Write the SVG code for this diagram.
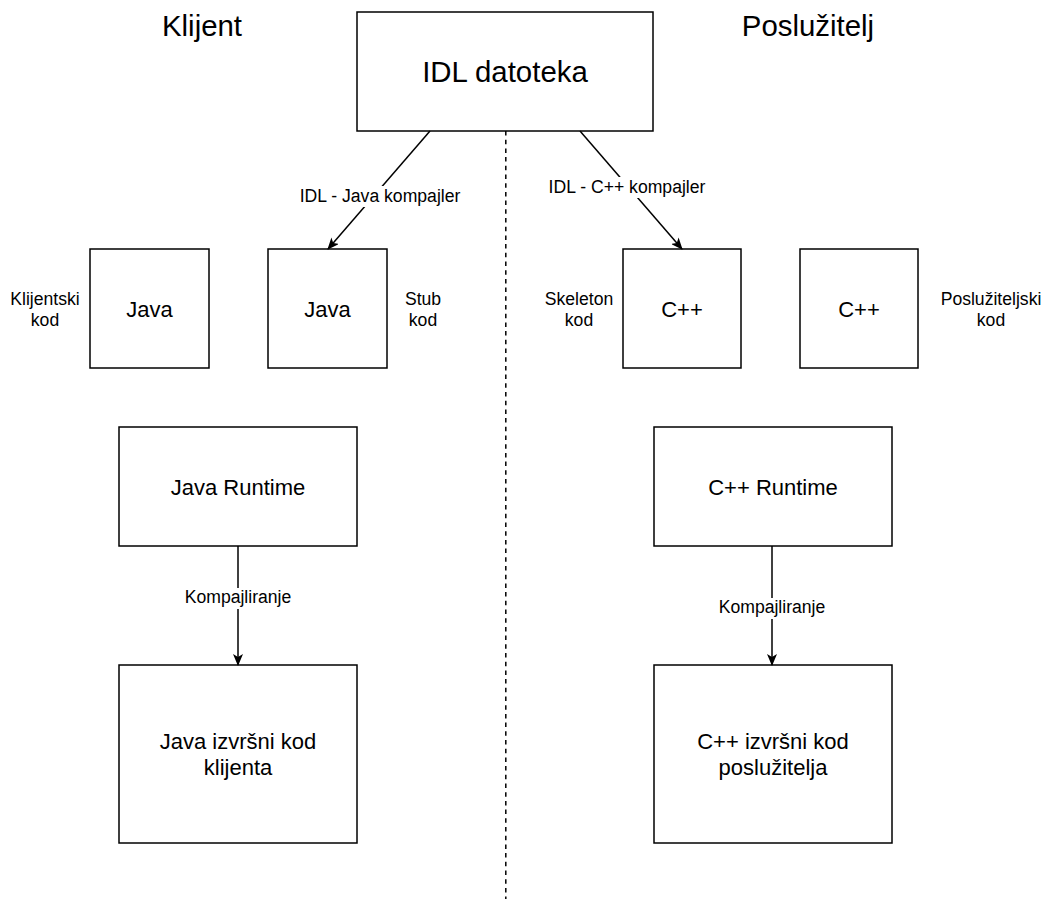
<svg xmlns="http://www.w3.org/2000/svg" width="1047" height="899" viewBox="0 0 1047 899">
<style>
.box{fill:#fff;stroke:#000;stroke-width:1.5}
.t{font-family:"Liberation Sans",Arial,sans-serif;fill:#000;text-anchor:middle}
.h{font-size:29.4px}
.m{font-size:22px}
.s{font-size:17.6px}
.edge{fill:none;stroke:#000;stroke-width:1.5}
.lblbg{fill:#fff;stroke:none}
</style>
<defs>
<marker id="arr" viewBox="0 0 12 10" refX="11" refY="5" markerWidth="12" markerHeight="10" markerUnits="userSpaceOnUse" orient="auto">
<path d="M0,0 L12,5 L0,10 L3,5 Z" fill="#000"/>
</marker>
</defs>
<rect width="1047" height="899" fill="#fff"/>
<g id="divider">
<line x1="505.8" y1="131" x2="505.8" y2="899" stroke="#000" stroke-width="1.5" stroke-dasharray="4.5,4.2"/>
</g>
<g id="title-klijent"><text class="t h" x="202" y="36">Klijent</text></g>
<g id="title-posluzitelj"><text class="t h" x="808" y="36">Poslužitelj</text></g>
<g id="idl">
<rect class="box" x="357" y="12" width="296" height="119"/>
<text class="t h" x="505" y="82">IDL datoteka</text>
</g>
<g id="java-client">
<rect class="box" x="90" y="249" width="119" height="119"/>
<text class="t m" x="149.5" y="317">Java</text>
</g>
<g id="java-stub">
<rect class="box" x="268" y="249" width="119" height="119"/>
<text class="t m" x="327.5" y="317">Java</text>
</g>
<g id="cpp-skeleton">
<rect class="box" x="623" y="249" width="118" height="119"/>
<text class="t m" x="682" y="317">C++</text>
</g>
<g id="cpp-server">
<rect class="box" x="800" y="249" width="118" height="119"/>
<text class="t m" x="859" y="317">C++</text>
</g>
<g id="lbl-klijentski"><text class="t s" x="45" y="305">Klijentski</text><text class="t s" x="45" y="326">kod</text></g>
<g id="lbl-stub"><text class="t s" x="423" y="305">Stub</text><text class="t s" x="423" y="326">kod</text></g>
<g id="lbl-skeleton"><text class="t s" x="579" y="305">Skeleton</text><text class="t s" x="579" y="326">kod</text></g>
<g id="lbl-posluziteljski"><text class="t s" x="991" y="305">Poslužiteljski</text><text class="t s" x="991" y="326">kod</text></g>
<g id="java-runtime">
<rect class="box" x="119" y="427" width="238" height="119"/>
<text class="t m" x="238" y="495">Java Runtime</text>
</g>
<g id="cpp-runtime">
<rect class="box" x="654" y="427" width="238" height="119"/>
<text class="t m" x="773" y="495">C++ Runtime</text>
</g>
<g id="java-exe">
<rect class="box" x="119" y="665" width="238" height="178"/>
<text class="t m" x="238" y="749">Java izvršni kod</text>
<text class="t m" x="238" y="775">klijenta</text>
</g>
<g id="cpp-exe">
<rect class="box" x="654" y="665" width="238" height="178"/>
<text class="t m" x="773" y="749">C++ izvršni kod</text>
<text class="t m" x="773" y="775">poslužitelja</text>
</g>
<g id="connectors">
<line class="edge" x1="430" y1="131" x2="328" y2="249" marker-end="url(#arr)"/>
<rect class="lblbg" x="299" y="186" width="162" height="21"/>
<text class="t s" x="380" y="202">IDL - Java kompajler</text>
<line class="edge" x1="580" y1="131" x2="682" y2="249" marker-end="url(#arr)"/>
<rect class="lblbg" x="548" y="177" width="158" height="21"/>
<text class="t s" x="627" y="193">IDL - C++ kompajler</text>
<line class="edge" x1="238" y1="546" x2="238" y2="665" marker-end="url(#arr)"/>
<rect class="lblbg" x="184" y="588" width="108" height="21"/>
<text class="t s" x="238" y="603">Kompajliranje</text>
<line class="edge" x1="772" y1="546" x2="772" y2="665" marker-end="url(#arr)"/>
<rect class="lblbg" x="718" y="598" width="108" height="21"/>
<text class="t s" x="772" y="613">Kompajliranje</text>
</g>
</svg>
